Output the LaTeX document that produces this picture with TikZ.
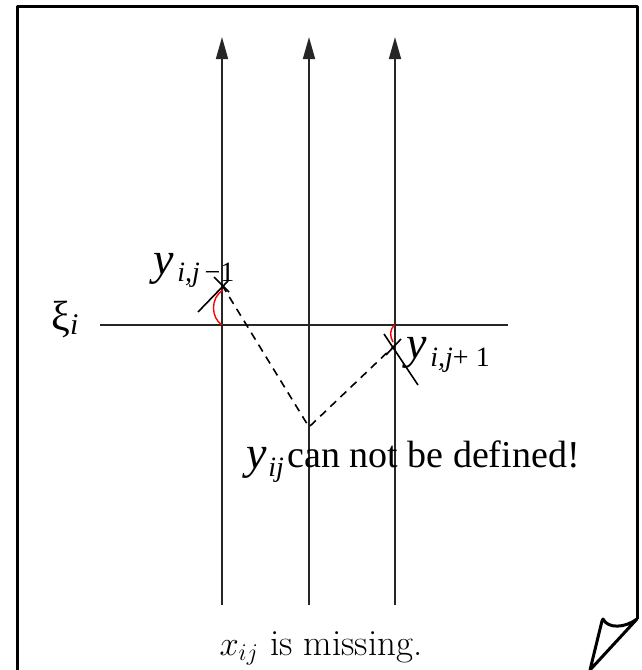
\documentclass[tikz,border=0pt]{standalone}
\usepackage[no-math]{fontspec}
\newfontfamily\tnr{Liberation Serif}
\usetikzlibrary{arrows.meta}
\begin{document}
\begin{tikzpicture}[x=0.5pt,y=-0.5pt,
  frame/.style={line width=1.5pt,line join=round},
  axis/.style={line width=0.85pt,draw=black!85},
  arrowline/.style={axis,-{Triangle[length=11pt,width=6pt]}},
  dashline/.style={line width=0.8pt,dash pattern=on 4pt off 3pt},
  tick/.style={line width=0.8pt},
  anglearc/.style={line width=0.7pt,draw=red},
  lab/.style={inner sep=0pt,font=\tnr\fontsize{19}{22}\selectfont},
  ylab/.style={inner sep=0pt,font=\tnr\itshape\fontsize{23}{25}\selectfont},
  sub/.style={inner sep=0pt,font=\tnr\itshape\fontsize{14}{16}\selectfont}]
\useasboundingbox (0,0) rectangle (642,670);
% frame with curled corner
\coordinate (fbl) at (17,670);
\coordinate (ftl) at (17,6);
\coordinate (ftr) at (637,6);
\coordinate (fbr) at (637,619);
\coordinate (cl) at (602,621);
\coordinate (ct) at (590,670);
\draw[frame] (fbl) -- (ftl) -- (ftr) -- (fbr);
\draw[frame] (fbr) .. controls (625,628) and (608,629) .. (603,619) -- (cl) -- (ct) -- cycle;
% vertical lines
\coordinate (b1) at (222,605); \coordinate (t1) at (222,37);
\coordinate (b2) at (309,605); \coordinate (t2) at (309,37);
\coordinate (b3) at (395,605); \coordinate (t3) at (395,37);
\draw[arrowline] (b1) -- (t1);
\draw[arrowline] (b2) -- (t2);
\draw[arrowline] (b3) -- (t3);
% horizontal line xi_i
\coordinate (hl) at (100,325); \coordinate (hr) at (508,325);
\draw[axis] (hl) -- (hr);
\node[inner sep=0pt,anchor=base west,font=\tnr\fontsize{21}{23}\selectfont] (xi) at (51,330) {ξ\raisebox{-0.25ex}{\fontsize{15}{17}\selectfont\itshape i}};
% points
\coordinate (pL) at (222,285);
\coordinate (pM) at (309,427);
\coordinate (pR) at (394,346);
\draw[dashline] (pL) -- (pM) -- (pR);
% cross marks / tangents
\coordinate (l1a) at (198,312); \coordinate (l1b) at (228,281);
\coordinate (l2a) at (214,277); \coordinate (l2b) at (229,292);
\draw[tick] (l1a) -- (l1b);
\draw[tick] (l2a) -- (l2b);
\coordinate (r1a) at (384,334); \coordinate (r1b) at (418,385);
\coordinate (r2a) at (386,355); \coordinate (r2b) at (401,339);
\draw[tick] (r1a) -- (r1b);
\draw[tick] (r2a) -- (r2b);
% red angle arcs
\coordinate (aL1) at (223,290); \coordinate (aL2) at (222,325);
\draw[anglearc] (aL1) .. controls (210,298) and (211,318) .. (aL2);
\coordinate (aR1) at (395,325); \coordinate (aR2) at (393,342);
\draw[anglearc] (aR1) .. controls (389,329) and (390,337) .. (aR2);
% labels
\node[ylab,anchor=base west] (yL) at (153,274) {y};
\node[sub,anchor=base west] (yLs) at (177,281) {i,j\,\upshape −1};
\node[ylab,anchor=base west] (yR) at (406,358) {y};
\node[sub,anchor=base west] (yRs) at (430,366) {i,j\upshape+ 1};
\node[ylab,anchor=base west] (yM) at (246,468) {y};
\node[sub,anchor=base west] (yMs) at (268,476) {ij};
\node[lab,anchor=base west] (msg) at (287,467) {can not be defined!};
\node[inner sep=0pt,anchor=base,font=\fontsize{18.5}{21}\selectfont] (miss) at (321,655) {$x_{ij}$ is missing.};
\end{tikzpicture}
\end{document}
